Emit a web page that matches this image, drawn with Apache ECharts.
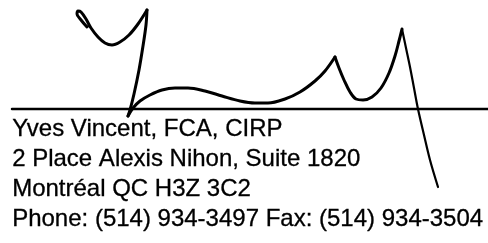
<!DOCTYPE html>
<html>
<head>
<meta charset="utf-8">
<script src="https://cdn.jsdelivr.net/npm/echarts@6/dist/echarts.min.js"></script>
<style>
  html, body { margin: 0; padding: 0; background: #fff; }
  #sig { width: 488px; height: 243px; }
</style>
</head>
<body>
<div id="sig"></div>
<script>
// signature strokes, in page-like units (x right, y down)
const loopStroke = [[87, 27], [81, 20], [77, 14], [78, 11], [81, 12], [86, 19], [91, 28], [98, 37], [105, 43], [112, 45], [120, 42], [129, 35], [138, 24], [147, 10]];
const downStroke = [[147, 10], [146, 25], [143, 46], [139, 70], [134, 94], [130, 110], [128, 116]];
const waveStroke = [[128, 116], [133, 108], [140, 101], [150, 95], [162, 90], [175, 88], [188, 88], [205, 91], [222, 96], [240, 101], [255, 103], [268, 103], [285, 99], [300, 92], [315, 81], [325, 71], [335, 57]];
const dipStroke = [[335, 57], [339, 68], [344, 80], [350, 92], [356, 99], [363, 100], [372, 97], [381, 88], [389, 73], [395, 56], [399, 41], [402, 29]];
const tailStroke = [[402, 29], [406, 48], [410, 67], [414, 88], [418, 109], [424, 135], [430, 160], [438, 187]];
const ruleLine = [[12, 109], [488, 109]];

const addressLines = [
    'Yves Vincent, FCA, CIRP',
    '2 Place Alexis Nihon, Suite 1820',
    'Montréal QC H3Z 3C2',
    'Phone: (514) 934-3497 Fax: (514) 934-3504',
];

const chart = echarts.init(document.getElementById('sig'));

const stroke = (data, w) => ({
    type: 'line',
    data: data,
    smooth: 0.35,
    symbol: 'none',
    silent: true,
    lineStyle: { color: '#000', width: w, cap: 'round', join: 'round' },
});

chart.setOption({
    animation: false,
    backgroundColor: '#fff',
    grid: { left: 0, right: 0, top: 0, bottom: 0 },
    xAxis: { type: 'value', min: 0, max: 488, show: false },
    yAxis: { type: 'value', min: 0, max: 243, inverse: true, show: false },
    series: [
        stroke(ruleLine, 2.5),
        stroke(loopStroke, 3),
        stroke(downStroke, 3),
        stroke(waveStroke, 3),
        stroke(dipStroke, 3),
        stroke(tailStroke, 2.2),
    ],
    graphic: addressLines.map((t, i) => ({
        type: 'text',
        left: 12,
        top: 117 + i * 30,
        style: {
            text: t,
            fill: '#000',
            stroke: '#000',
            lineWidth: 0.3,
            font: '24px "Liberation Sans", Arial, sans-serif',
        },
    })),
});
</script>
</body>
</html>
